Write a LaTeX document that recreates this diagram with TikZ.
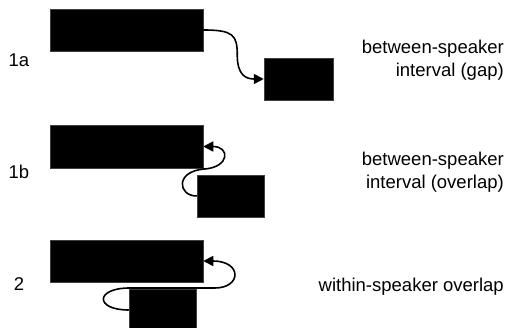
\documentclass[tikz,border=0pt]{standalone}
\usepackage{fontspec}
\setmainfont{Liberation Sans}
\usetikzlibrary{arrows.meta}
\tikzset{
  blk/.style={fill=black, draw=black!75, line width=0.5pt, inner sep=0pt},
  conn/.style={line width=1.6pt, -{Triangle[length=10pt,width=10pt]}},
  lbl/.style={font=\fontsize{18.5}{23}\selectfont, inner sep=0pt},
}
\begin{document}
\begin{tikzpicture}[x=1pt,y=-1pt]
\useasboundingbox (0,0) rectangle (509,328);
% row 1a
\node[blk, minimum width=153pt, minimum height=42pt] (a1) at (126.5,30) {};
\node[blk, minimum width=69pt, minimum height=42pt] (b1) at (298.5,79) {};
\draw[conn] (a1.east) .. controls +(30,0) and +(0,-20) .. ++(34,25)
  .. controls +(0,20) and +(-18,0) .. (b1.west);
\node[lbl] (n1) at (19,60) {1a};
\node[lbl, anchor=east, align=right] (t1) at (504,60) {between-speaker\\interval (gap)};
% row 1b
\node[blk, minimum width=153pt, minimum height=43pt] (a2) at (126.5,146.5) {};
\node[blk, minimum width=67pt, minimum height=42pt] (b2) at (230.5,196) {};
\draw[conn] (b2.west) .. controls +(-19,0) and +(-30,2) .. ++(8,-27)
  .. controls +(25,-2) and +(27,0) .. (a2.east);
\node[lbl] (n2) at (19,172) {1b};
\node[lbl, anchor=east, align=right] (t2) at (504,172) {between-speaker\\interval (overlap)};
% row 2
\node[blk, minimum width=153pt, minimum height=42pt] (a3) at (126.5,261) {};
\node[blk, minimum width=67pt, minimum height=42pt] (b3) at (162.5,310) {};
\draw[conn] (b3.west) .. controls +(-34,0) and +(-35,0) .. ++(1,-22) -- ++(85,0)
  .. controls +(27,0) and +(39,0) .. (a3.east);
\node[lbl] (n3) at (19,284) {2};
\node[lbl, anchor=east] (t3) at (504,287) {within-speaker overlap};
\end{tikzpicture}
\end{document}
